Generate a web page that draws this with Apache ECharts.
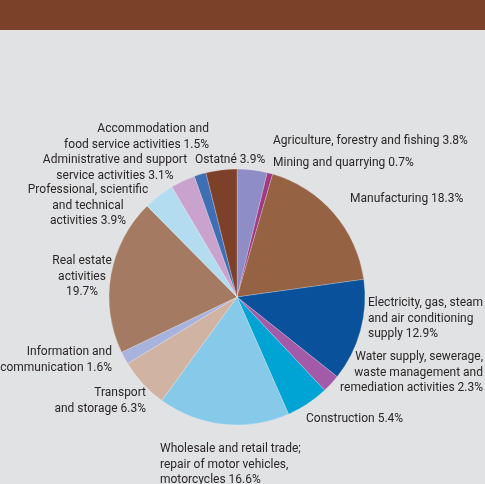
<!DOCTYPE html>
<html>
<head>
<meta charset="utf-8">
<script src="https://cdn.jsdelivr.net/npm/echarts@6/dist/echarts.min.js"></script>
<style>
  html, body { margin: 0; padding: 0; background: #e1e2e3; }
  #chart { width: 485px; height: 484px; }
</style>
</head>
<body>
<div id="chart"></div>
<script>
// Sector names (line breaks as printed), shares in percent, slice colours
var categories = [
  'Agriculture, forestry and fishing',
  'Mining and quarrying',
  'Manufacturing',
  'Electricity, gas, steam\nand air conditioning\nsupply',
  'Water supply, sewerage,\nwaste management and\nremediation activities',
  'Construction',
  'Wholesale and retail trade;\nrepair of motor vehicles,\nmotorcycles',
  'Transport\nand storage',
  'Information and\ncommunication',
  'Real estate\nactivities\n',
  'Professional, scientific\nand technical\nactivities',
  'Administrative and support\nservice activities',
  'Accommodation and\nfood service activities',
  'Ostatné'
];
var shares = [3.8, 0.7, 18.3, 12.9, 2.3, 5.4, 16.6, 6.3, 1.6, 19.7, 3.9, 3.1, 1.5, 3.9];
var colors = [
  '#8e8dc6', '#a03a83', '#956243', '#0a519c', '#a35aa8', '#00a4d4', '#87c9e9',
  '#d0b3a3', '#a7b3dd', '#a57a62', '#b3dcf1', '#c9a3cd', '#3e6eb3', '#7d412a'
];

// Label anchors: [x, y of first line centre, alignment]
var labelSpots = [
  [273, 141, 'left'],
  [273, 163, 'left'],
  [350, 199, 'left'],
  [368, 303, 'left'],
  [483, 357, 'right'],
  [306, 419, 'left'],
  [160, 449, 'left'],
  [146, 393, 'right'],
  [112, 352, 'right'],
  [82, 261, 'center'],
  [88, 190, 'center'],
  [115, 160, 'center'],
  [209, 129, 'right'],
  [195, 160, 'left']
];
var LINE_H = 15.5;

var chart = echarts.init(document.getElementById('chart'), null, { renderer: 'canvas' });

var pieData = categories.map(function (name, i) {
  return { name: name, value: shares[i], itemStyle: { color: colors[i] } };
});

chart.setOption({
  backgroundColor: '#e1e2e3',
  animation: false,
  graphic: [{
    type: 'rect',
    shape: { x: 0, y: 0, width: 485, height: 30 },
    style: { fill: '#7c4129' },
    silent: true
  }],
  series: [{
    type: 'pie',
    center: [237, 297],
    radius: [0, 128],
    startAngle: 90,
    clockwise: true,
    avoidLabelOverlap: false,
    itemStyle: { borderColor: 'rgba(255,255,255,0.45)', borderWidth: 0.5 },
    labelLine: { show: false },
    label: {
      show: true,
      position: 'outside',
      color: '#2a2627',
      fontFamily: 'Roboto, "Liberation Sans", Arial, sans-serif',
      fontSize: 12,
      lineHeight: LINE_H,
      formatter: function (p) {
        var sep = /\n$/.test(p.name) ? '' : ' ';
        return p.name + sep + p.value.toFixed(1) + '%';
      }
    },
    labelLayout: function (params) {
      var s = labelSpots[params.dataIndex];
      return {
        x: s[0],
        y: s[1] - LINE_H / 2,
        align: s[2],
        verticalAlign: 'top'
      };
    },
    data: pieData
  }]
});
</script>
</body>
</html>
